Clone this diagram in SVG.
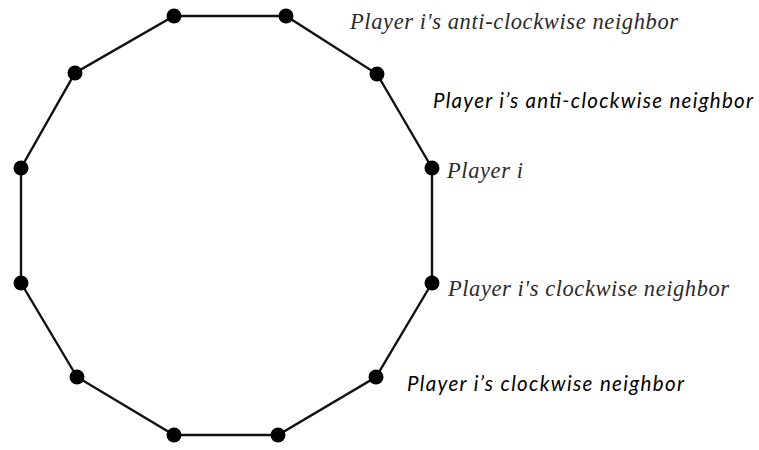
<svg xmlns="http://www.w3.org/2000/svg" width="759" height="450" viewBox="0 0 759 450">
<style>
.edge{stroke:#111;stroke-width:2.4;fill:none}
.dot{fill:#000}
.serif{font-family:"Liberation Serif","Times New Roman",serif;font-style:italic;fill:#2a2a2a}
.sans{font-family:Lato,"Open Sans",sans-serif;font-style:italic;fill:#000}
</style>
<rect width="759" height="450" fill="#fff"/>
<g id="connectors">
<polygon class="edge" points="174,16 286,16 377,74 432,168 432,283 376,377 278,435 174,435 77,377 21,283 21,168 75,73"/>
</g>
<g id="n1"><circle class="dot" cx="174" cy="16" r="7.5"/></g>
<g id="n2"><circle class="dot" cx="286" cy="16" r="7.5"/></g>
<g id="n3"><circle class="dot" cx="377" cy="74" r="7.5"/></g>
<g id="n4"><circle class="dot" cx="432" cy="168" r="7.5"/></g>
<g id="n5"><circle class="dot" cx="432" cy="283" r="7.5"/></g>
<g id="n6"><circle class="dot" cx="376" cy="377" r="7.5"/></g>
<g id="n7"><circle class="dot" cx="278" cy="435" r="7.5"/></g>
<g id="n8"><circle class="dot" cx="174" cy="435" r="7.5"/></g>
<g id="n9"><circle class="dot" cx="77" cy="377" r="7.5"/></g>
<g id="n10"><circle class="dot" cx="21" cy="283" r="7.5"/></g>
<g id="n11"><circle class="dot" cx="21" cy="168" r="7.5"/></g>
<g id="n12"><circle class="dot" cx="75" cy="73" r="7.5"/></g>
<g id="labels">
<text class="serif" x="350" y="29" font-size="22.5" textLength="328">Player i's anti-clockwise neighbor</text>
<text class="sans" x="433" y="108" font-size="20.5" textLength="320">Player i’s anti-clockwise neighbor</text>
<text class="serif" x="447" y="178" font-size="22.5" textLength="76">Player i</text>
<text class="serif" x="448" y="296" font-size="22.5" textLength="281">Player i's clockwise neighbor</text>
<text class="sans" x="407" y="391" font-size="20.5" textLength="277">Player i’s clockwise neighbor</text>
</g>
</svg>
